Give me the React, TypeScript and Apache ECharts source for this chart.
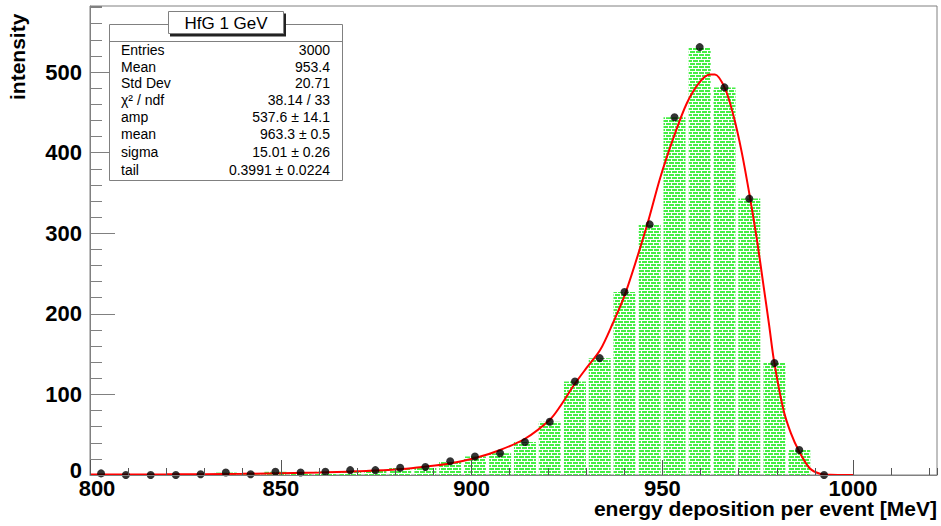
import React, { useEffect, useRef } from "react";
import * as echarts from "echarts";

// Histogram bins (energy deposition per event, MeV) and counts
const binCenters = [
  802.9, 809.4, 815.9, 822.5, 829.0, 835.6, 842.1, 848.6, 855.2, 861.7,
  868.2, 874.8, 881.3, 887.9, 894.4, 900.9, 907.5, 914.0, 920.5, 927.1,
  933.6, 940.1, 946.7, 953.2, 959.8, 966.3, 972.8, 979.4, 985.9, 992.4,
];
const counts = [
  2, 0, 0, 0, 1, 3, 1, 4, 3, 4,
  6, 6, 9, 10, 17, 23, 27, 41, 66, 116,
  145, 227, 311, 444, 531, 481, 343, 139, 31, 0,
];

// Fit curve points
const fitX = [
  800, 820, 840, 860, 870, 881, 887, 894, 901, 907.5,
  914, 920.6, 923.2, 926.9, 930, 933.7, 937, 940.3, 946, 949.4,
  952.9, 956.4, 959.9, 962.5, 963.8, 966.4, 968.6, 970.8, 973, 974.8,
  976.5, 978, 979.3, 981.7, 983.7, 985.9, 988.7, 991.3, 994, 996, 1000,
];
const fitY = [
  0.5, 0.8, 1.5, 3, 4.5, 7, 10, 14, 21, 31,
  45, 69, 85, 112, 132, 155, 188, 225, 310, 368,
  418, 461, 488, 497, 497, 480, 447, 401, 344, 292,
  236, 186, 141, 82, 52, 29, 8, 1.5, 0.2, 0, 0,
];

const statsTitle = "HfG 1 GeV";
const statsLabels = ["Entries", "Mean", "Std Dev", "χ² / ndf", "amp", "mean", "sigma", "tail"];
const statsValues = ["3000", "953.4", "20.71", "38.14 / 33", "537.6 ± 14.1", "963.3 ± 0.5", "15.01 ± 0.26", "0.3991 ± 0.0224"];

const xTitle = "energy deposition per event [MeV]";
const yTitle = "intensity";

const X_MIN = 800;
const X_MAX = 1022;
const Y_MIN = 0;
const Y_MAX = 582;

export default function App() {
  const ref = useRef<HTMLDivElement>(null);

  useEffect(() => {
    if (!ref.current) return;
    const chart = echarts.init(ref.current, null, { renderer: "svg" });
    const font = "'Liberation Sans', Arial, Helvetica, sans-serif";
    const frame = "#808080";
    const tickCol = "#555555";

    const barData = binCenters
      .map((x, i) => [x, counts[i]])
      .filter((d) => d[1] > 0);
    const pointData = binCenters.map((x, i) => [x, counts[i]]);
    const lineData = fitX.map((x, i) => [x, fitY[i]]);

    const labelStyle = {
      fontSize: 22,
      fontWeight: "bold",
      fontFamily: font,
      color: "#000",
    };

    const rowY = [50, 66.5, 83, 99.5, 117, 134, 152, 169.5];
    const statsGraphics: any[] = [
      {
        type: "rect",
        shape: { x: 109.5, y: 24.5, width: 233, height: 156 },
        style: { fill: "#ffffff", stroke: frame, lineWidth: 1 },
        z: 100,
      },
      {
        type: "line",
        shape: { x1: 109.5, y1: 41.5, x2: 342.5, y2: 41.5 },
        style: { stroke: frame, lineWidth: 1 },
        z: 101,
      },
      {
        type: "rect",
        shape: { x: 170, y: 13.5, width: 116, height: 23 },
        style: { fill: "#222222" },
        z: 102,
      },
      {
        type: "rect",
        shape: { x: 168.5, y: 11.5, width: 115, height: 22 },
        style: { fill: "#ffffff", stroke: frame, lineWidth: 1 },
        z: 103,
      },
      {
        type: "text",
        x: 226,
        y: 23,
        style: {
          text: statsTitle,
          fontSize: 17,
          fontFamily: font,
          fill: "#000",
          align: "center",
          verticalAlign: "middle",
        },
        z: 104,
      },
    ];
    statsLabels.forEach((lab, i) => {
      statsGraphics.push({
        type: "text",
        x: 121,
        y: rowY[i],
        style: { text: lab, fontSize: 14, fontFamily: font, fill: "#000", align: "left", verticalAlign: "middle" },
        z: 104,
      });
      statsGraphics.push({
        type: "text",
        x: 330,
        y: rowY[i],
        style: { text: statsValues[i], fontSize: 14, fontFamily: font, fill: "#000", align: "right", verticalAlign: "middle" },
        z: 104,
      });
    });

    const option: any = {
      animation: false,
      backgroundColor: "#ffffff",
      grid: {
        left: 90,
        right: 4,
        top: 6,
        bottom: 51,
        show: true,
        borderColor: frame,
        borderWidth: 1,
        backgroundColor: "transparent",
      },
      xAxis: [
        {
          type: "value",
          min: X_MIN,
          max: X_MAX,
          interval: 50,
          position: "bottom",
          z: 5,
          axisLine: { show: true, onZero: false, lineStyle: { color: frame, width: 1 } },
          axisTick: { show: true, inside: true, length: 15, lineStyle: { color: tickCol, width: 1 } },
          axisLabel: {
            show: true,
            margin: 2,
            ...labelStyle,
            showMaxLabel: false,
            formatter: (v: number) => (v === X_MIN ? "{first|" + String(v) + "}" : String(v)),
            rich: {
              first: { ...labelStyle, padding: [0, 0, 0, 14] },
            },
          },
          splitLine: { show: false },
        },
        {
          type: "value",
          min: X_MIN,
          max: X_MAX,
          interval: 10,
          position: "bottom",
          z: 5,
          axisLine: { show: false, onZero: false },
          axisTick: { show: true, inside: true, length: 7, lineStyle: { color: tickCol, width: 1 } },
          axisLabel: { show: false },
          splitLine: { show: false },
        },
      ],
      yAxis: [
        {
          type: "value",
          min: Y_MIN,
          max: Y_MAX,
          interval: 100,
          position: "left",
          z: 5,
          axisLine: { show: true, onZero: false, lineStyle: { color: frame, width: 1 } },
          axisTick: { show: true, inside: true, length: 25, lineStyle: { color: frame, width: 1 } },
          axisLabel: {
            show: true,
            margin: 8,
            ...labelStyle,
            showMaxLabel: false,
            formatter: (v: number) => (v === Y_MIN ? "{zero|" + String(v) + "}" : String(v)),
            rich: {
              zero: { ...labelStyle, padding: [0, 0, 10, 0] },
            },
          },
          splitLine: { show: false },
        },
        {
          type: "value",
          min: Y_MIN,
          max: Y_MAX,
          interval: 20,
          position: "left",
          z: 5,
          axisLine: { show: false, onZero: false },
          axisTick: { show: true, inside: true, length: 12, lineStyle: { color: frame, width: 1 } },
          axisLabel: { show: false },
          splitLine: { show: false },
        },
      ],
      series: [
        {
          type: "bar",
          xAxisIndex: 0,
          yAxisIndex: 0,
          data: barData,
          barWidth: 22,
          z: 2,
          itemStyle: {
            color: "#ffffff",
            decal: {
              symbol: "rect",
              symbolSize: 1,
              color: "#44ee44",
              dashArrayX: [[5, 1], [2, 1, 3, 0]],
              dashArrayY: [2, 1],
              rotation: 0,
            },
          },
        },
        {
          type: "line",
          xAxisIndex: 0,
          yAxisIndex: 0,
          data: lineData,
          smooth: 0.3,
          showSymbol: false,
          symbol: "none",
          z: 3,
          lineStyle: { color: "#ff0000", width: 2 },
        },
        {
          type: "scatter",
          xAxisIndex: 0,
          yAxisIndex: 0,
          data: pointData,
          symbol: "circle",
          symbolSize: 8,
          z: 4,
          itemStyle: { color: "#000000" },
        },
      ],
      graphic: [
        ...statsGraphics,
        {
          type: "text",
          x: 17,
          y: 100,
          rotation: Math.PI / 2,
          style: {
            text: yTitle,
            fontSize: 21,
            fontWeight: "bold",
            fontFamily: font,
            fill: "#000",
            align: "left",
            verticalAlign: "middle",
          },
        },
        {
          type: "text",
          x: 937,
          y: 508,
          style: {
            text: xTitle,
            fontSize: 21,
            fontWeight: "bold",
            fontFamily: font,
            fill: "#000",
            align: "right",
            verticalAlign: "middle",
          },
        },
      ],
    };

    chart.setOption(option);
    return () => chart.dispose();
  }, []);

  return (
    <div
      ref={ref}
      style={{ position: "fixed", left: 0, top: 0, width: 941, height: 526, background: "#ffffff" }}
    />
  );
}
